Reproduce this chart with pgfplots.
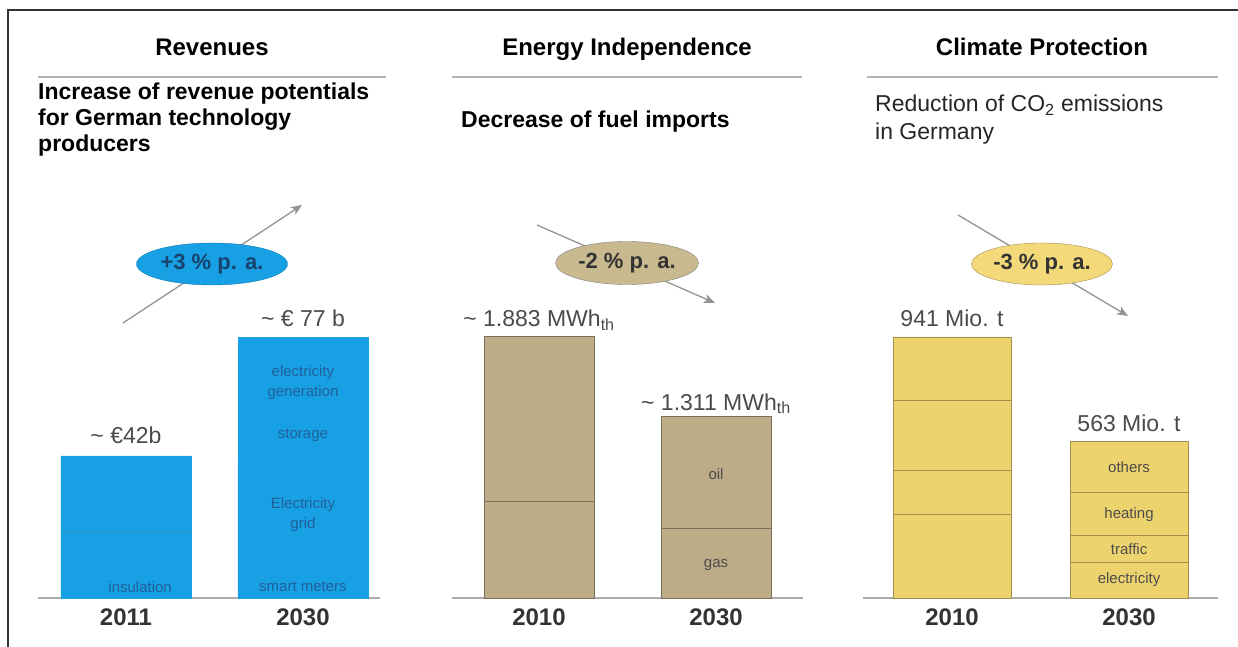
\documentclass[border=0pt]{standalone}
\usepackage{fontspec}
\setmainfont{Liberation Sans}
\usepackage{pgfplots}
\pgfplotsset{compat=1.18}
\usetikzlibrary{arrows.meta,shapes.geometric}

\definecolor{revblue}{HTML}{17A0E4}
\definecolor{revline}{HTML}{3C8CBE}
\definecolor{revtext}{HTML}{22609A}
\definecolor{tan}{HTML}{BCAD88}
\definecolor{tanline}{HTML}{7D705A}
\definecolor{tanell}{HTML}{C9B98F}
\definecolor{yel}{HTML}{EDD36E}
\definecolor{yelline}{HTML}{A08E4E}
\definecolor{yelell}{HTML}{F3D97A}
\definecolor{valgray}{HTML}{4A4A4A}

\newcommand\titlefont{\bfseries\fontsize{24}{28}\selectfont}
\newcommand\subfont{\fontsize{23}{26}\selectfont}
\newcommand\valfont{\fontsize{23}{26}\selectfont}
\newcommand\inbar{\fontsize{15}{20}\selectfont}
\newcommand\ellfont{\bfseries\fontsize{22}{26}\selectfont}

\pgfplotsset{panel/.style={
  scale only axis, anchor=south west,
  ybar stacked, reverse stacked plots=false,
  ymin=0, enlargelimits=false,
  axis x line=bottom, axis y line=none,
  x axis line style={-, draw=gray!65, line width=2pt},
  xtick={0,1}, major tick length=0pt, ytick=\empty,
  tick label style={font=\bfseries\fontsize{24}{28}\selectfont, text=black!80, yshift=-7pt},
  clip=false,
}}

\begin{document}
\begin{tikzpicture}[x=1pt,y=1pt]
\path[use as bounding box] (0,0) rectangle (1238,647);

% frame
\draw[black!80, line width=1.5pt] (8,0) -- (8,637) -- (1238,637);

% headings
\node[anchor=base, font=\titlefont] at (212,591) {Revenues};
\node[anchor=base, font=\titlefont] at (627,591) {Energy Independence};
\node[anchor=base, font=\titlefont] at (1042,591) {Climate Protection};
\draw[gray!60, line width=2pt] (38,570) -- (386,570);
\draw[gray!60, line width=2pt] (452,570) -- (802,570);
\draw[gray!60, line width=2pt] (867,570) -- (1218,570);

\begin{scope}[every node/.style={anchor=base west, inner sep=0pt}]
\node[font=\bfseries\subfont] at (38,547) {Increase of revenue potentials};
\node[font=\bfseries\subfont] at (38,521) {for German technology};
\node[font=\bfseries\subfont] at (38,495) {producers};
\node[font=\bfseries\subfont] at (461,519) {Decrease of fuel imports};
\node[font=\subfont, text=black!85] at (875,535) {Reduction of CO\textsubscript{2} emissions};
\node[font=\subfont, text=black!85] at (875,507) {in Germany};
\end{scope}

% trend arrows and growth rates
\draw[gray!85, line width=1.3pt, -{Stealth[length=11pt,width=9pt,inset=3pt]}] (123,324) -- (302,442);
\draw[gray!85, line width=1.3pt, -{Stealth[length=11pt,width=9pt,inset=3pt]}] (537,422) -- (715,344);
\draw[gray!85, line width=1.3pt, -{Stealth[length=11pt,width=9pt,inset=3pt]}] (958,432) -- (1128,331);
\node[ellipse, minimum width=151pt, minimum height=42pt, fill=revblue, draw=revblue!80!black,
      font=\ellfont, text=revtext!70!black, inner sep=0pt] at (212,383) {+3 \% p. a.};
\node[ellipse, minimum width=143pt, minimum height=43pt, fill=tanell, draw=gray,
      font=\ellfont, text=black!80, inner sep=0pt] at (627,384) {-2 \% p. a.};
\node[ellipse, minimum width=141pt, minimum height=42pt, fill=yelell, draw=yelline,
      font=\ellfont, text=black!80, inner sep=0pt] at (1042,383) {-3 \% p. a.};

% Revenues (billion EUR)
\begin{axis}[panel, at={(38pt,49pt)}, x=177pt, y=3.385pt,
  xmin=-0.497, xmax=1.435, ymax=77, bar width=130pt,
  xticklabels={2011,2030}]
\addplot[fill=revblue, draw=revblue] coordinates {(0,19.7) (1,4)};
\addplot[fill=revblue, draw=revblue] coordinates {(0,22.3) (1,37)};
\addplot[fill=revblue, draw=revblue] coordinates {(0,0) (1,15)};
\addplot[fill=revblue, draw=revblue] coordinates {(0,0) (1,21)};
\draw[revline, line width=1.5pt] (axis cs:-0.36,19.7) -- (axis cs:0.36,19.7);
\node[anchor=base, font=\valfont, text=valgray, yshift=12pt] at (axis cs:0,42) {\textasciitilde\ €42b};
\node[anchor=base, font=\valfont, text=valgray, yshift=11pt] at (axis cs:1,77) {\textasciitilde\ € 77 b};
\node[font=\inbar, text=revtext] at (axis cs:0.08,3.25) {insulation};
\node[font=\inbar, text=revtext] at (axis cs:1,3.25) {smart meters};
\node[font=\inbar, text=revtext, align=center] at (axis cs:1,24.5) {Electricity\\grid};
\node[font=\inbar, text=revtext] at (axis cs:1,48.2) {storage};
\node[font=\inbar, text=revtext, align=center] at (axis cs:1,63.5) {electricity\\generation};
\end{axis}

% Energy independence (fuel imports)
\begin{axis}[panel, at={(452pt,49pt)}, x=177pt, y=0.1387pt,
  xmin=-0.4915, xmax=1.4915, ymax=1883, bar width=110pt,
  xticklabels={2010,2030}]
\addplot[fill=tan, draw=tanline, line width=0.8pt] coordinates {(0,700) (1,505)};
\addplot[fill=tan, draw=tanline, line width=0.8pt] coordinates {(0,1183) (1,806)};
\node[anchor=base, font=\valfont, text=valgray, yshift=10pt] at (axis cs:0,1883) {\textasciitilde\ 1.883 MWh\textsubscript{th}};
\node[anchor=base, font=\valfont, text=valgray, yshift=6pt] at (axis cs:1,1311) {\textasciitilde\ 1.311 MWh\textsubscript{th}};
\node[font=\inbar, text=black!70] at (axis cs:1,894) {oil};
\node[font=\inbar, text=black!70] at (axis cs:1,238) {gas};
\end{axis}

% Climate protection (CO2 emissions)
\begin{axis}[panel, at={(863pt,49pt)}, x=177pt, y=0.2774pt,
  xmin=-0.503, xmax=1.503, ymax=941, bar width=118pt,
  xticklabels={2010,2030}]
\addplot[fill=yel, draw=yelline, line width=0.8pt] coordinates {(0,303) (1,130)};
\addplot[fill=yel, draw=yelline, line width=0.8pt] coordinates {(0,158) (1,97)};
\addplot[fill=yel, draw=yelline, line width=0.8pt] coordinates {(0,253) (1,152)};
\addplot[fill=yel, draw=yelline, line width=0.8pt] coordinates {(0,227) (1,184)};
\node[anchor=base, font=\valfont, text=valgray, yshift=10pt] at (axis cs:0,941) {941 Mio. t};
\node[anchor=base, font=\valfont, text=valgray, yshift=10pt] at (axis cs:1,563) {563 Mio. t};
\node[font=\inbar, text=black!70] at (axis cs:1,472) {others};
\node[font=\inbar, text=black!70] at (axis cs:1,299) {heating};
\node[font=\inbar, text=black!70] at (axis cs:1,177) {traffic};
\node[font=\inbar, text=black!70] at (axis cs:1,65) {electricity};
\end{axis}
\end{tikzpicture}
\end{document}
